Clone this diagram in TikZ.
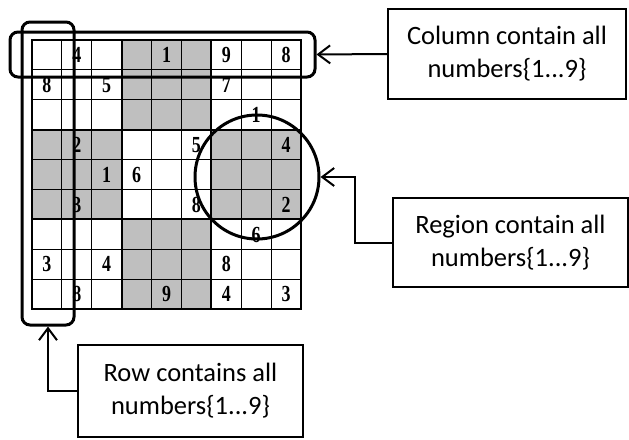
\documentclass[tikz,border=0pt]{standalone}
\usepackage{fontspec}
\usepackage{graphicx}
\setmainfont{Carlito}
\newfontfamily\digitfont{Liberation Serif}
\usetikzlibrary{arrows.meta,calc}
\begin{document}
\begin{tikzpicture}[x=1pt,y=-1pt,
  callout/.style={draw,line width=2pt,inner sep=0pt,align=center,
    font=\fontsize{26.5}{33}\selectfont},
  ring/.style={draw,line width=3pt,rounded corners=8pt},
  conn/.style={line width=2pt,-{Straight Barb[length=12pt,width=18pt,line width=2pt]}},
  digit/.style={inner sep=0pt,anchor=base,font=\digitfont\bfseries\fontsize{23}{23}\selectfont},
  thin grid/.style={line width=1.1pt},
  thick grid/.style={line width=2.3pt},
  shade/.style={fill=black!25}]
\useasboundingbox (0,0) rectangle (629,439);
\def\cs{29.889}
\def\gx{32}
\def\gy{40}
% shaded boxes
\foreach \bc/\br in {1/0,0/1,2/1,1/2}{
  \fill[shade] (\gx+\bc*3*\cs,\gy+\br*3*\cs) rectangle ++(3*\cs,3*\cs);
}
% thin lines
\foreach \i in {1,2,4,5,7,8}{
  \draw[thin grid] (\gx+\i*\cs,\gy) -- (\gx+\i*\cs,\gy+9*\cs);
  \draw[thin grid] (\gx,\gy+\i*\cs) -- (\gx+9*\cs,\gy+\i*\cs);
}
\foreach \i in {3,6}{
  \draw[thick grid] (\gx+\i*\cs,\gy) -- (\gx+\i*\cs,\gy+9*\cs);
  \draw[thick grid] (\gx,\gy+\i*\cs) -- (\gx+9*\cs,\gy+\i*\cs);
}
\draw[thick grid] (\gx,\gy) rectangle (\gx+9*\cs,\gy+9*\cs);
% digits
\foreach \r/\c/\d in {1/2/4,1/5/1,1/7/9,1/9/8,
  2/1/8,2/3/5,2/7/7,
  3/8/1,
  4/2/2,4/6/5,4/9/4,
  5/3/1,5/4/6,
  6/2/3,6/6/8,6/9/2,
  7/8/6,
  8/1/3,8/3/4,8/7/8,
  9/2/8,9/5/9,9/7/4,9/9/3}{
  \node[digit] (d\r\c) at (\gx+\c*\cs-0.5*\cs,\gy+\r*\cs-0.5*\cs+7.8) {\scalebox{0.78}[1]{\d}};
}
% highlight shapes
\node[ring,minimum width=305pt,minimum height=45pt,inner sep=0pt] (hrect) at (162.5,54.5) {};
\node[ring,minimum width=52pt,minimum height=303pt,inner sep=0pt] (vrect) at (48,173.5) {};
\node[draw,circle,line width=3pt,minimum size=124pt,inner sep=0pt] (circ) at (257,177) {};
% callouts
\node[callout,minimum width=238pt,minimum height=90pt] (colbox) at (507,54) {Column contain all\\numbers\{1...9\}};
\node[callout,minimum width=235pt,minimum height=89pt] (regbox) at (510.5,242.5) {Region contain all\\numbers\{1...9\}};
\node[callout,minimum width=225pt,minimum height=92pt] (rowbox) at (190.5,391) {Row contains all\\numbers\{1...9\}};
% connectors
\coordinate (bend) at (355,242.5);
\draw[conn] (colbox.west) -- (hrect.east);
\draw[conn] (regbox.west) -- (bend) |- (circ.east);
\draw[conn] (rowbox.west) -| (vrect.south);
\end{tikzpicture}
\end{document}
